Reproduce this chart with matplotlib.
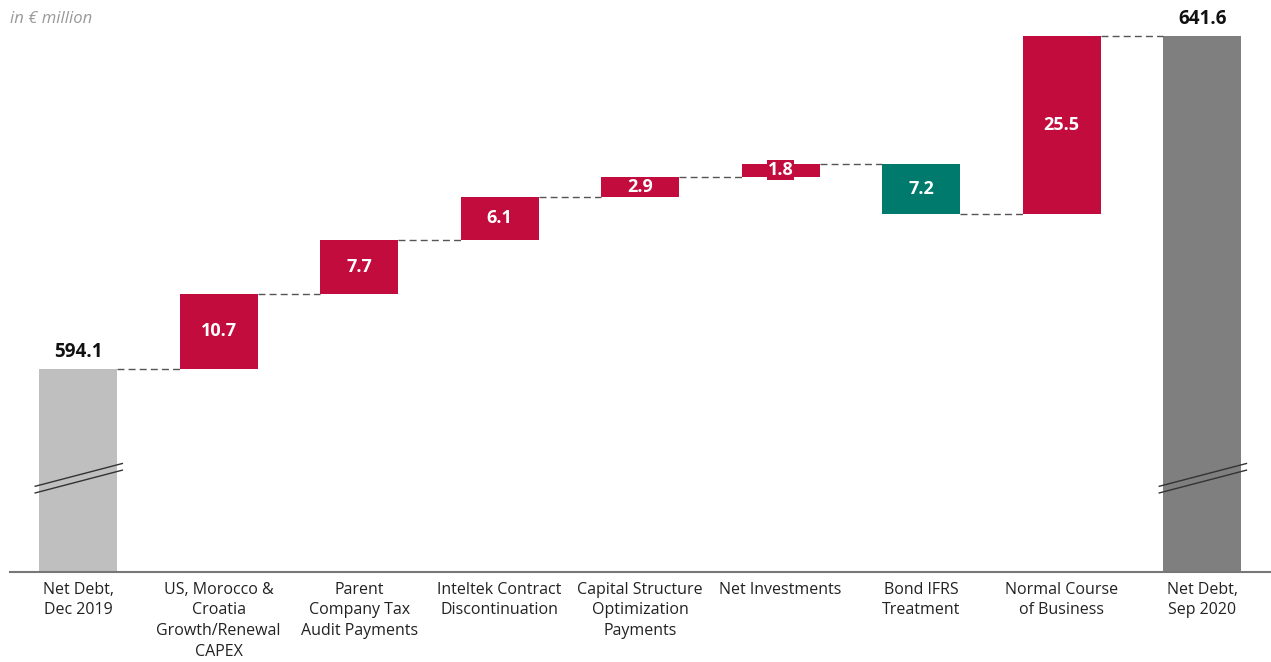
import numpy as np
import matplotlib
matplotlib.use("Agg")
from matplotlib import pyplot as plt

plt.rcParams['font.family'] = ['Open Sans', 'DejaVu Sans']

labels = ["Net Debt,\nDec 2019", "US, Morocco &\nCroatia\nGrowth/Renewal\nCAPEX",
          "Parent\nCompany Tax\nAudit Payments", "Inteltek Contract\nDiscontinuation",
          "Capital Structure\nOptimization\nPayments", "Net Investments",
          "Bond IFRS\nTreatment", "Normal Course\nof Business", "Net Debt,\nSep 2020"]
start_total = 594.1
end_total = 641.6
changes = [10.7, 7.7, 6.1, 2.9, 1.8, -7.2, 25.5]

RED = "#C20C3D"
TEAL = "#007A6D"
LIGHT = "#BFBFBF"
DARK = "#7F7F7F"

fig = plt.figure(figsize=(12.71, 6.62), dpi=100)
ax = fig.add_axes([0.0079, 0.136, 0.9921, 0.864])

x = np.arange(len(labels))
w = 0.555
ymin = 565.1

# totals
ax.bar(x[0], start_total - ymin, bottom=ymin, width=w, color=LIGHT)
ax.bar(x[-1], end_total - ymin, bottom=ymin, width=w, color=DARK)
ax.text(x[0], start_total + 0.9, f"{start_total:.1f}", ha='center', va='bottom',
        fontsize=13.5, fontweight='bold', color='#111111')
ax.text(x[-1], end_total + 0.9, f"{end_total:.1f}", ha='center', va='bottom',
        fontsize=13.5, fontweight='bold', color='#111111')

# steps
level = start_total
levels = [level]
for i, c in enumerate(changes):
    xi = x[i + 1]
    lo = min(level, level + c)
    color = RED if c > 0 else TEAL
    ax.bar(xi, abs(c), bottom=lo, width=w, color=color)
    lab = f"{abs(c):.1f}"
    if abs(c) < 2:
        ax.text(xi, lo + abs(c) / 2, lab, ha='center', va='center', fontsize=13,
                fontweight='bold', color='white',
                bbox=dict(boxstyle='square,pad=0.05', fc=color, ec='none'))
    else:
        ax.text(xi, lo + abs(c) / 2, lab, ha='center', va='center', fontsize=13,
                fontweight='bold', color='white')
    level = level + c
    levels.append(level)

# connectors
for i, lv in enumerate(levels):
    ax.plot([x[i] + w / 2, x[i + 1] - w / 2], [lv, lv], color='#555555',
            lw=1.0, ls=(0, (5, 3)))

# break marks on the total bars
for xi in (x[0], x[-1]):
    for off in (0.0, -0.95):
        ax.plot([xi - 0.31, xi + 0.32], [577.3 + off, 580.6 + off],
                color='#333333', lw=1.0, solid_capstyle='butt')

ax.set_xlim(-0.484, 8.49)
ax.set_ylim(ymin, 646.7)
ax.set_xticks(x)
ax.set_xticklabels(labels, fontsize=11.5, color='#222222', linespacing=1.4)
ax.tick_params(axis='x', length=0, pad=7)
ax.set_yticks([])
for s in ['top', 'right', 'left']:
    ax.spines[s].set_visible(False)
ax.spines['bottom'].set_color('#777777')
ax.spines['bottom'].set_linewidth(1.5)

fig.text(0.008, 0.972, "in € million", fontsize=12, style='italic',
         color='#999999', ha='left', va='center')

fig.savefig("out.png", dpi=100)
